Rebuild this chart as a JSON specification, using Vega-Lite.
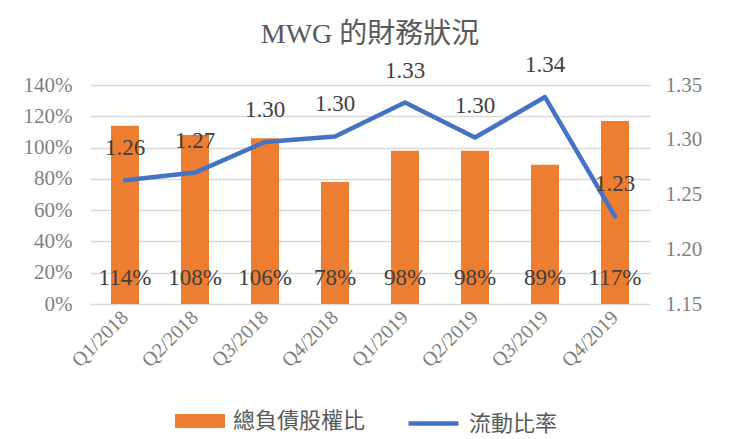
{
  "$schema": "https://vega.github.io/schema/vega-lite/v6.json",
  "width": 560,
  "height": 219,
  "autosize": {"type": "none"},
  "padding": {"left": 90, "top": 85, "right": 81, "bottom": 135},
  "background": "white",
  "config": {
    "view": {"stroke": null},
    "font": "Liberation Serif, Noto Sans CJK TC",
    "axis": {"labelFont": "Liberation Serif", "labelColor": "#7f7f7f", "labelFontSize": 21, "labelOverlap": false, "gridColor": "#d9d9d9", "gridWidth": 1.5, "domain": false, "ticks": false, "title": null}
  },
  "title": {"text": "MWG 的財務狀況", "font": "Liberation Serif, Noto Sans CJK TC", "fontSize": 28, "fontWeight": "normal", "color": "#595959", "anchor": "middle", "offset": 5},
  "data": {"values": [
    {"q": "Q1/2018", "de": 1.14, "cr": 1.263, "crl": "1.26", "del": "114%"},
    {"q": "Q2/2018", "de": 1.08, "cr": 1.270, "crl": "1.27", "del": "108%"},
    {"q": "Q3/2018", "de": 1.06, "cr": 1.298, "crl": "1.30", "del": "106%"},
    {"q": "Q4/2018", "de": 0.78, "cr": 1.303, "crl": "1.30", "del": "78%"},
    {"q": "Q1/2019", "de": 0.98, "cr": 1.334, "crl": "1.33", "del": "98%"},
    {"q": "Q2/2019", "de": 0.98, "cr": 1.302, "crl": "1.30", "del": "98%"},
    {"q": "Q3/2019", "de": 0.89, "cr": 1.339, "crl": "1.34", "del": "89%"},
    {"q": "Q4/2019", "de": 1.17, "cr": 1.230, "crl": "1.23", "del": "117%"}
  ]},
  "encoding": {
    "x": {"field": "q", "type": "nominal", "sort": null, "scale": {"paddingInner": 0, "paddingOuter": 0},
      "axis": {"labelAngle": -45, "labelAlign": "right", "labelBaseline": "middle", "labelPadding": 10, "labelFontSize": 20, "grid": false}}
  },
  "layer": [
    {
      "layer": [
        {
          "mark": {"type": "bar", "width": {"band": 0.4}},
          "encoding": {
            "y": {"field": "de", "type": "quantitative", "scale": {"domain": [0, 1.4], "nice": false},
              "axis": {"orient": "left", "values": [0, 0.2, 0.4, 0.6, 0.8, 1.0, 1.2, 1.4], "format": ".0%", "grid": true, "labelPadding": 18}},
            "color": {"datum": "總負債股權比", "type": "nominal", "scale": {"range": ["#ED7D31"]},
              "legend": {"orient": "none", "legendX": 85, "legendY": 311, "title": null, "symbolType": "M-1,-0.28H1V0.28H-1Z", "symbolSize": 2500, "symbolStrokeWidth": 0, "labelFont": "Noto Sans CJK TC", "labelFontSize": 22, "labelColor": "#595959", "labelOffset": 8}}
          }
        },
        {
          "mark": {"type": "text", "fontSize": 23, "color": "#404040", "dy": -26, "baseline": "middle", "font": "Liberation Serif"},
          "encoding": {
            "y": {"datum": 0, "type": "quantitative", "scale": {"domain": [0, 1.4], "nice": false},
              "axis": {"orient": "left", "values": [0, 0.2, 0.4, 0.6, 0.8, 1.0, 1.2, 1.4], "format": ".0%", "grid": true, "labelPadding": 18}},
            "text": {"field": "del"}
          }
        }
      ]
    },
    {
      "layer": [
        {
          "mark": {"type": "line", "strokeWidth": 4.5, "strokeCap": "round", "strokeJoin": "round"},
          "encoding": {
            "y": {"field": "cr", "type": "quantitative", "scale": {"domain": [1.15, 1.35], "nice": false, "zero": false},
              "axis": {"orient": "right", "values": [1.15, 1.2, 1.25, 1.3, 1.35], "format": ".2f", "grid": false, "labelPadding": 15}},
            "stroke": {"datum": "流動比率", "type": "nominal", "scale": {"range": ["#4472C4"]},
              "legend": {"orient": "none", "legendX": 316, "legendY": 311, "title": null, "symbolType": "stroke", "symbolSize": 2500, "symbolStrokeWidth": 4.5, "labelFont": "Noto Sans CJK TC", "labelFontSize": 22, "labelColor": "#595959", "labelOffset": 8}}
          }
        },
        {
          "mark": {"type": "text", "fontSize": 23, "color": "#404040", "dy": -32, "baseline": "middle", "font": "Liberation Serif"},
          "encoding": {
            "y": {"field": "cr", "type": "quantitative", "scale": {"domain": [1.15, 1.35], "nice": false, "zero": false},
              "axis": {"orient": "right", "values": [1.15, 1.2, 1.25, 1.3, 1.35], "format": ".2f", "grid": false, "labelPadding": 15}},
            "text": {"field": "crl"}
          }
        }
      ]
    }
  ],
  "resolve": {"scale": {"y": "independent"}}
}
